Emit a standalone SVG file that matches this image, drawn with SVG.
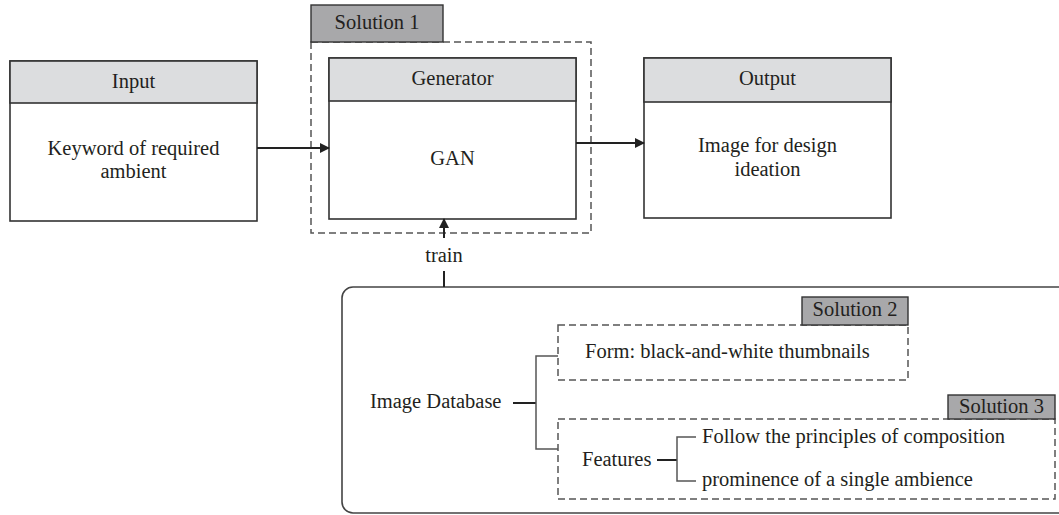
<svg xmlns="http://www.w3.org/2000/svg" width="1059" height="515" viewBox="0 0 1059 515" font-family="'Liberation Serif', 'Times New Roman', Times, serif">
<defs>
<style>
text{font-family:'Liberation Serif','Times New Roman',Times,serif;font-size:20.5px;fill:#231f20}
.c{text-anchor:middle}
.box{fill:#fff;stroke:#333;stroke-width:1.6}
.hdr{fill:#dcdddf;stroke:#333;stroke-width:1.6}
.tab{fill:#a8a8aa;stroke:#333;stroke-width:1.4}
.dash{fill:none;stroke:#555;stroke-width:1.5;stroke-dasharray:7 4}
.ln{fill:none;stroke:#222;stroke-width:2}
.br{fill:none;stroke:#555;stroke-width:1.5}
</style>
<marker id="ah" markerWidth="10" markerHeight="10" refX="9" refY="5" orient="auto" markerUnits="userSpaceOnUse">
<path d="M0,0 L10,5 L0,10 Z" fill="#222"/>
</marker>
</defs>

<g id="solution1">
<rect class="dash" x="311" y="42" width="280" height="191"/>
<rect class="tab" x="311" y="5" width="132" height="37"/>
<text class="c" x="377" y="29">Solution 1</text>
</g>

<g id="input">
<rect class="box" x="10" y="61" width="247" height="160"/>
<rect class="hdr" x="10" y="61" width="247" height="42"/>
<text class="c" x="133.5" y="88">Input</text>
<text class="c" x="133.5" y="155">Keyword of required</text>
<text class="c" x="133.5" y="178">ambient</text>
</g>

<g id="generator">
<rect class="box" x="329" y="58" width="247" height="161"/>
<rect class="hdr" x="329" y="58" width="247" height="43"/>
<text class="c" x="452.5" y="85">Generator</text>
<text class="c" x="452.5" y="165">GAN</text>
</g>

<g id="output">
<rect class="box" x="644" y="58" width="247" height="160"/>
<rect class="hdr" x="644" y="58" width="247" height="44"/>
<text class="c" x="767.5" y="85">Output</text>
<text class="c" x="767.5" y="152">Image for design</text>
<text class="c" x="767.5" y="176">ideation</text>
</g>

<g id="database">
<rect x="342" y="287" width="760" height="226" rx="11" fill="none" stroke="#444" stroke-width="1.6"/>
<text x="370" y="408">Image Database</text>
</g>

<g id="solution2">
<rect class="dash" x="558" y="325" width="350" height="55"/>
<rect class="tab" x="802" y="297" width="106" height="28"/>
<text class="c" x="855" y="316">Solution 2</text>
<text x="585" y="358">Form: black-and-white thumbnails</text>
</g>

<g id="solution3">
<rect class="dash" x="558" y="419" width="497" height="80"/>
<rect class="tab" x="948" y="395" width="107" height="24"/>
<text class="c" x="1001.5" y="413">Solution 3</text>
<text x="582" y="466">Features</text>
<text x="702" y="443">Follow the principles of composition</text>
<text x="702" y="486">prominence of a single ambience</text>
</g>

<g id="connectors">
<line class="ln" x1="257" y1="148" x2="329" y2="148" marker-end="url(#ah)"/>
<line class="ln" x1="576" y1="143" x2="644" y2="143" marker-end="url(#ah)"/>
<line class="ln" x1="444" y1="238" x2="444" y2="219" marker-end="url(#ah)"/>
<text class="c" x="444" y="262">train</text>
<line class="ln" x1="444" y1="271" x2="444" y2="287"/>
<line class="ln" x1="513" y1="403" x2="536" y2="403"/>
<path class="br" d="M558,356 H536 V449 H558"/>
<line class="ln" x1="657" y1="460" x2="677" y2="460"/>
<path class="br" d="M696,437 H677 V481 H696"/>
</g>
</svg>
